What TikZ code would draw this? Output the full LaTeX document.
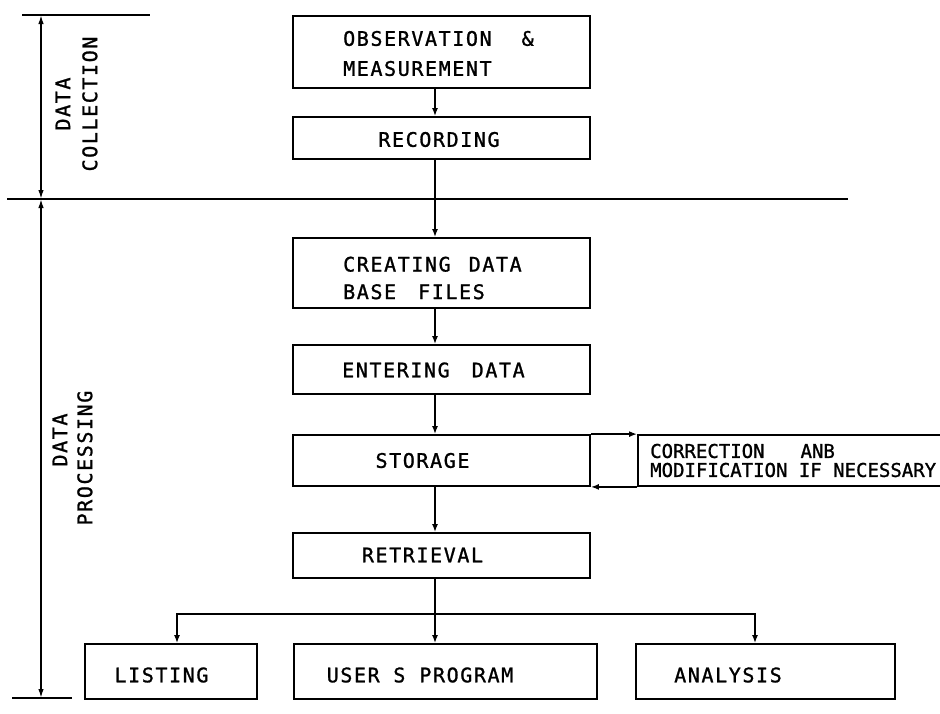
\documentclass[tikz,border=0pt]{standalone}
\usepackage{fontspec}
\newfontfamily\lett{DejaVu Sans Mono}[LetterSpace=8,FakeBold=1.2]
\newfontfamily\lettplain{DejaVu Sans Mono}[FakeBold=1.2]
\usetikzlibrary{arrows.meta,fit}

\begin{document}
\begin{tikzpicture}[x=1pt,y=-1pt,
  box/.style={draw, line width=1.8pt, inner sep=0pt, rectangle},
  lbl/.style={inner sep=0pt, anchor=west, align=left,
    font=\lett\fontsize{20}{30}\selectfont},
  rot/.style={inner sep=0pt, rotate=90, align=center},
  flow/.style={line width=1.6pt, -{Latex[length=8pt,width=6pt]}},
  dim/.style={line width=1.6pt,
    {Latex[length=9pt,width=5.5pt]}-{Latex[length=9pt,width=5.5pt]}},
  rule/.style={line width=1.6pt}]
\useasboundingbox (0,0) rectangle (940,713);

% ---- reference coordinates for the connector columns
\coordinate (spine) at (435,0);
\coordinate (lisx)  at (177,0);
\coordinate (anax)  at (755,0);
\coordinate (bus)   at (0,614);

% ---- boxes
\node[box, fit={(293,16) (590,88)}]   (obs) {};
\node[box, fit={(293,117) (590,159)}] (rec) {};
\node[box, fit={(293,238) (590,308)}] (cre) {};
\node[box, fit={(293,345) (590,394)}] (ent) {};
\node[box, fit={(293,435) (590,486)}] (sto) {};
\node[box, fit={(638,435) (950,486)}] (cor) {};
\node[box, fit={(293,533) (590,578)}] (ret) {};
\node[box, fit={(85,644) (257,699)}]  (lis) {};
\node[box, fit={(294,644) (597,699)}] (usr) {};
\node[box, fit={(636,644) (895,699)}] (ana) {};

% ---- box texts
\node[lbl] (t-obs) at (343,53.5) {OBSERVATION\hspace{30pt}\&\\MEASUREMENT};
\node[lbl, anchor=center] (t-rec) at (439,139.5) {RECORDING};
\node[lbl, font=\lett\fontsize{20}{27.5}\selectfont] (t-cre) at (343,278)
  {CREATING\hspace{18pt}DATA\\BASE\hspace{22pt}FILES};
\node[lbl] (t-ent) at (342,370) {ENTERING\hspace{22pt}DATA};
\node[lbl, anchor=center] (t-sto) at (422.5,460.5) {STORAGE};
\node[lbl, font=\lettplain\fontsize{19}{19}\selectfont] (t-cor) at (650,460.5)
  {CORRECTION\hspace{36pt}ANB\\MODIFICATION IF NECESSARY};
\node[lbl, anchor=center] (t-ret) at (422.5,555) {RETRIEVAL};
\node[lbl, anchor=center] (t-lis) at (161.5,675) {LISTING};
\node[lbl, anchor=center] (t-usr) at (420,675) {USER S\hspace{14pt}PROGRAM};
\node[lbl, anchor=center] (t-ana) at (728,675) {ANALYSIS};

% ---- side labels
\node[rot, font=\lett\fontsize{20}{27}\selectfont] (t-col) at (76.5,104)
  {DATA\\COLLECTION};
\node[rot, font=\lett\fontsize{20}{25}\selectfont] (t-proc) at (72.5,458)
  {\hspace*{36pt}DATA\\PROCESSING};

% ---- main flow
\draw[flow] (obs.south -| spine) -- (rec.north -| spine);
\draw[flow] (rec.south -| spine) -- (cre.north -| spine);
\draw[flow] (cre.south -| spine) -- (ent.north -| spine);
\draw[flow] (ent.south -| spine) -- (sto.north -| spine);
\draw[flow] (sto.south -| spine) -- (ret.north -| spine);

% ---- correction loop
\draw[flow] (sto.north east) -- (cor.north west);
\draw[flow] (cor.south west) -- (sto.south east);

% ---- output branches
\draw[flow] (ret.south -| spine) -- (usr.north -| spine);
\draw[flow] (bus -| spine) -| (lis.north -| lisx);
\draw[flow] (bus -| spine) -| (ana.north -| anax);

% ---- phase dimension lines
\coordinate (dtop) at (41,15);
\coordinate (dmid) at (41,199);
\coordinate (dbot) at (41,698);
\coordinate (rtopL) at (22,15);   \coordinate (rtopR) at (150,15);
\coordinate (rmidL) at (7,199);   \coordinate (rmidR) at (848,199);
\coordinate (rbotL) at (12,698);  \coordinate (rbotR) at (72,698);
\draw[rule] (rtopL) -- (rtopR);
\draw[rule] (rmidL) -- (rmidR);
\draw[rule] (rbotL) -- (rbotR);
\draw[dim] (dtop) -- (dmid);
\draw[dim] (dmid) -- (dbot);
\end{tikzpicture}
\end{document}
